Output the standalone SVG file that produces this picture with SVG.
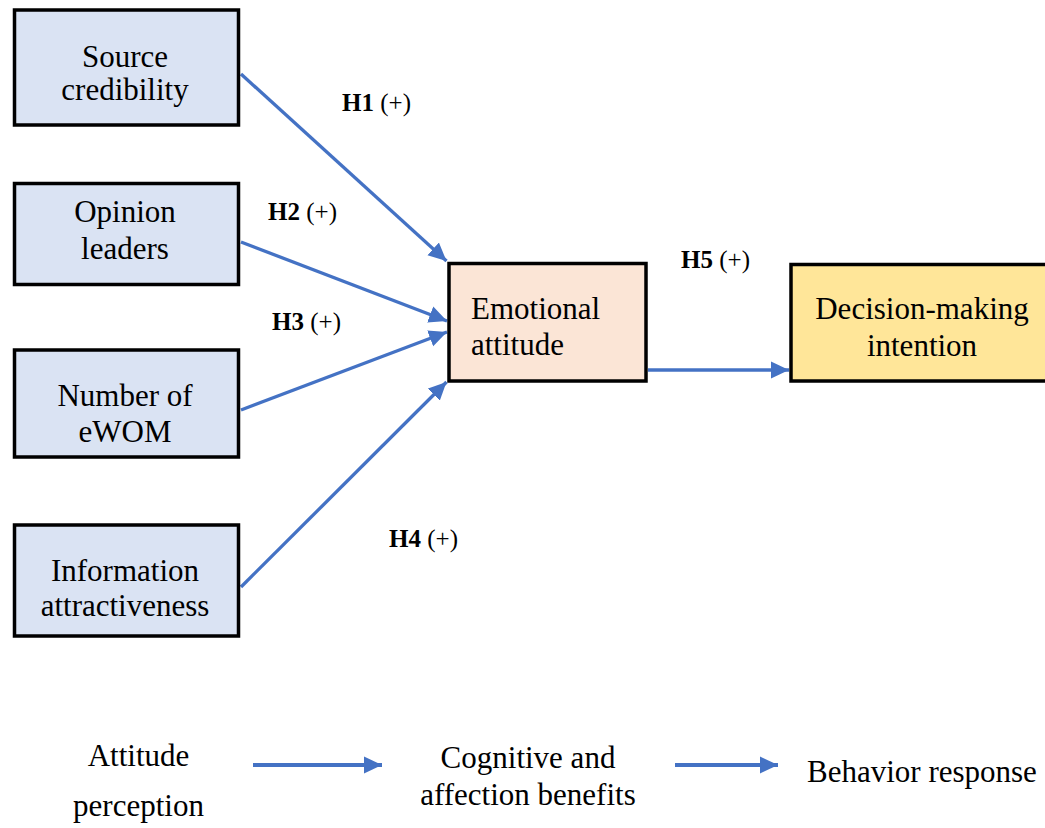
<svg xmlns="http://www.w3.org/2000/svg" width="1045" height="828" viewBox="0 0 1045 828">
<defs>
<style>
.box{stroke:#000;stroke-width:3.5}
.src{fill:#DAE3F3}
.emo{fill:#FBE5D6}
.dec{fill:#FFE699}
.t{font-family:"Liberation Serif","Times New Roman",serif;font-size:31px;fill:#000}
.c{text-anchor:middle}
.h{font-family:"Liberation Serif","Times New Roman",serif;font-size:25px;fill:#000}
.b{font-weight:bold}
.ln{stroke:#4472C4;stroke-width:3.3;fill:none;marker-end:url(#ah)}
.lg{stroke-width:4}
</style>
<marker id="ah" markerUnits="userSpaceOnUse" markerWidth="19" markerHeight="18" refX="18" refY="9" orient="auto" viewBox="0 0 19 18">
<path d="M0,0.5 L18,9 L0,17.5 z" fill="#4472C4"/>
</marker>
</defs>
<rect width="1045" height="828" fill="#fff"/>
<g id="connectors">
<line class="ln" x1="241" y1="74" x2="446.5" y2="261"/>
<line class="ln" x1="241" y1="242" x2="447" y2="321"/>
<line class="ln" x1="241" y1="410" x2="447" y2="332"/>
<line class="ln" x1="241" y1="587" x2="446.5" y2="382"/>
<line class="ln" x1="648" y1="370" x2="789" y2="370"/>
<line class="ln lg" x1="253" y1="765" x2="382" y2="765"/>
<line class="ln lg" x1="675" y1="765" x2="778" y2="765"/>
</g>
<g id="labels">
<text class="h" x="342" y="111"><tspan class="b">H1</tspan> (+)</text>
<text class="h" x="268" y="220"><tspan class="b">H2</tspan> (+)</text>
<text class="h" x="272" y="330"><tspan class="b">H3</tspan> (+)</text>
<text class="h" x="389" y="547"><tspan class="b">H4</tspan> (+)</text>
<text class="h" x="681" y="268"><tspan class="b">H5</tspan> (+)</text>
</g>
<g id="source-credibility">
<rect class="box src" x="14.5" y="10" width="224" height="115"/>
<text class="t c" x="125" y="67">Source</text>
<text class="t c" x="125" y="100">credibility</text>
</g>
<g id="opinion-leaders">
<rect class="box src" x="14.5" y="183.5" width="224" height="101"/>
<text class="t c" x="125" y="222">Opinion</text>
<text class="t c" x="125" y="259">leaders</text>
</g>
<g id="number-of-ewom">
<rect class="box src" x="14.5" y="350" width="224" height="107"/>
<text class="t c" x="125" y="406">Number of</text>
<text class="t c" x="125" y="442">eWOM</text>
</g>
<g id="information-attractiveness">
<rect class="box src" x="14.5" y="525" width="224" height="111"/>
<text class="t c" x="125" y="581">Information</text>
<text class="t c" x="125" y="616">attractiveness</text>
</g>
<g id="emotional-attitude">
<rect class="box emo" x="449" y="263.5" width="197" height="117.5"/>
<text class="t" x="471" y="319">Emotional</text>
<text class="t" x="471" y="355">attitude</text>
</g>
<g id="decision-making-intention">
<rect class="box dec" x="791" y="264.5" width="264" height="116.5"/>
<text class="t c" x="922" y="319">Decision-making</text>
<text class="t c" x="922" y="356">intention</text>
</g>
<g id="legend">
<text class="t c" x="138.5" y="766">Attitude</text>
<text class="t c" x="138.5" y="816">perception</text>
<text class="t c" x="528" y="768">Cognitive and</text>
<text class="t c" x="528" y="805">affection benefits</text>
<text class="t" x="807" y="782">Behavior response</text>
</g>
</svg>
